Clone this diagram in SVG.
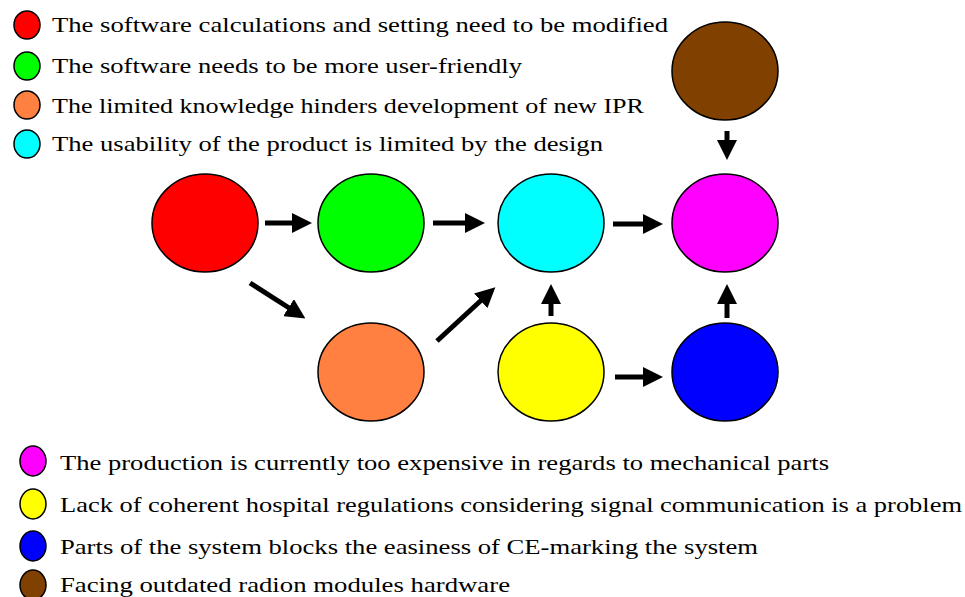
<svg xmlns="http://www.w3.org/2000/svg" width="965" height="597" viewBox="0 0 965 597">
<style>
.n{stroke:#000;stroke-width:1.5}
.t{font-family:"Liberation Serif","DejaVu Serif",serif;font-size:22px;fill:#000}
.c{stroke:#000;stroke-width:5;fill:none;marker-end:url(#ah)}
</style>
<defs>
<marker id="ah" markerWidth="4" markerHeight="4" refX="2" refY="2" orient="auto" markerUnits="strokeWidth" viewBox="0 0 4 4">
<path d="M0,0 L4,2 L0,4 Z" fill="#000"/>
</marker>
</defs>
<rect width="965" height="597" fill="#fff"/>
<g id="legend">
<ellipse class="n" cx="27" cy="25" rx="13" ry="14" fill="#ff0000"/>
<text class="t" x="52" y="32" textLength="616" lengthAdjust="spacingAndGlyphs">The software calculations and setting need to be modified</text>
<ellipse class="n" cx="27" cy="66" rx="13" ry="14" fill="#00ff00"/>
<text class="t" x="52" y="73" textLength="470" lengthAdjust="spacingAndGlyphs">The software needs to be more user-friendly</text>
<ellipse class="n" cx="27" cy="105" rx="13" ry="14" fill="#ff8040"/>
<text class="t" x="52" y="113" textLength="592" lengthAdjust="spacingAndGlyphs">The limited knowledge hinders development of new IPR</text>
<ellipse class="n" cx="27" cy="144" rx="13" ry="14" fill="#00ffff"/>
<text class="t" x="52" y="151" textLength="551" lengthAdjust="spacingAndGlyphs">The usability of the product is limited by the design</text>
<ellipse class="n" cx="33" cy="461" rx="13" ry="15" fill="#ff00ff"/>
<text class="t" x="60" y="470" textLength="769" lengthAdjust="spacingAndGlyphs">The production is currently too expensive in regards to mechanical parts</text>
<ellipse class="n" cx="33" cy="504" rx="13" ry="15" fill="#ffff00"/>
<text class="t" x="60" y="512" textLength="902" lengthAdjust="spacingAndGlyphs">Lack of coherent hospital regulations considering signal communication is a problem</text>
<ellipse class="n" cx="33" cy="546" rx="13" ry="15" fill="#0000ff"/>
<text class="t" x="60" y="554" textLength="698" lengthAdjust="spacingAndGlyphs">Parts of the system blocks the easiness of CE-marking the system</text>
<ellipse class="n" cx="33" cy="585" rx="13" ry="15" fill="#804000"/>
<text class="t" x="60" y="592" textLength="450" lengthAdjust="spacingAndGlyphs">Facing outdated radion modules hardware</text>
</g>
<g id="connectors">
<line class="c" x1="265" y1="223" x2="302" y2="223"/>
<line class="c" x1="433" y1="223" x2="475" y2="223"/>
<line class="c" x1="613" y1="224" x2="653" y2="224"/>
<line class="c" x1="727" y1="131" x2="727" y2="150"/>
<line class="c" x1="250" y1="283" x2="297" y2="313"/>
<line class="c" x1="437" y1="341" x2="488" y2="294"/>
<line class="c" x1="551" y1="316" x2="551" y2="294"/>
<line class="c" x1="727" y1="318" x2="727" y2="294"/>
<line class="c" x1="615" y1="377" x2="653" y2="377"/>
</g>
<g id="node-red"><ellipse class="n" cx="205" cy="223" rx="53" ry="49" fill="#ff0000"/></g>
<g id="node-green"><ellipse class="n" cx="371" cy="223" rx="53" ry="49" fill="#00ff00"/></g>
<g id="node-cyan"><ellipse class="n" cx="551" cy="223" rx="53" ry="49" fill="#00ffff"/></g>
<g id="node-magenta"><ellipse class="n" cx="725" cy="223" rx="53" ry="49" fill="#ff00ff"/></g>
<g id="node-brown"><ellipse class="n" cx="725" cy="71" rx="53" ry="49" fill="#804000"/></g>
<g id="node-orange"><ellipse class="n" cx="371" cy="372" rx="53" ry="49" fill="#ff8040"/></g>
<g id="node-yellow"><ellipse class="n" cx="551" cy="372" rx="53" ry="49" fill="#ffff00"/></g>
<g id="node-blue"><ellipse class="n" cx="725" cy="372" rx="53" ry="49" fill="#0000ff"/></g>
</svg>
